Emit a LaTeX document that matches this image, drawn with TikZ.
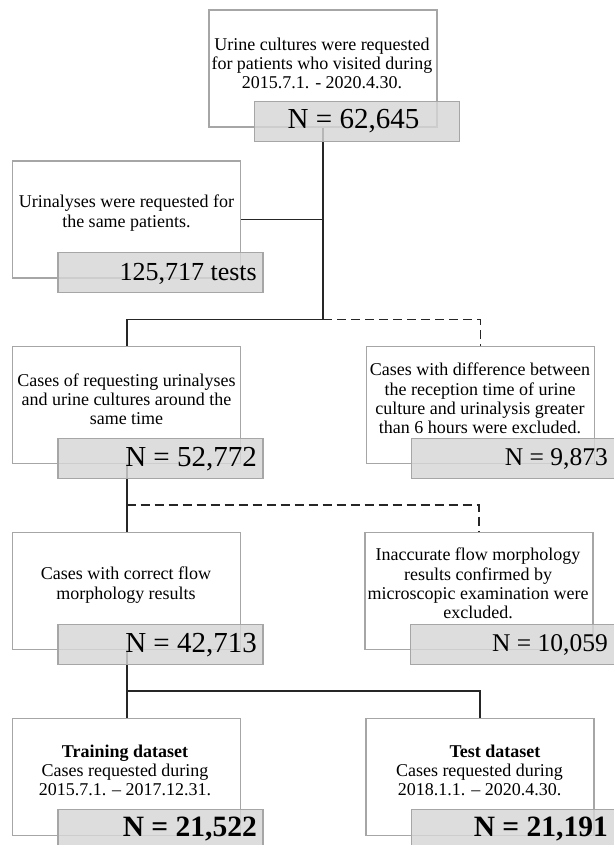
\documentclass[tikz,border=0pt]{standalone}
\usepackage{fontspec}
\setmainfont{Liberation Serif}
\usetikzlibrary{calc}
\definecolor{boxline}{HTML}{A6A6A6}
\definecolor{grayfill}{HTML}{D6D6D6}
\definecolor{connline}{HTML}{262626}
\tikzset{
  wbox/.style={draw=boxline, line width=1.2pt, fill=white, minimum width=228pt, minimum height=117pt, inner sep=0pt},
  gbox/.style={draw=boxline, line width=1.2pt, fill=grayfill, fill opacity=0.82, draw opacity=1, minimum width=205pt, minimum height=40pt, inner sep=0pt},
  conn/.style={draw=connline, line width=1.6pt},
  dconn/.style={conn, dash pattern=on 9pt off 5pt},
  small/.style={align=center, inner sep=0pt, font=\fontsize{18pt}{19.2pt}\selectfont},
  bigl/.style={inner sep=0pt, font=\fontsize{29pt}{30pt}\selectfont},
  bigr/.style={inner sep=0pt, font=\fontsize{25.5pt}{27pt}\selectfont},
  bigb/.style={inner sep=0pt, font=\fontsize{29.5pt}{30pt}\selectfont\bfseries},
}
\begin{document}
\begin{tikzpicture}[x=1pt,y=-1pt]
\useasboundingbox (0,0) rectangle (613,845);
% white boxes
\node[wbox] (top) at (323,68.5) {};
\node[wbox] (urin) at (126.7,219.5) {};
\node[wbox] (incl1) at (126.7,405.3) {};
\node[wbox] (excl1) at (480.3,405.3) {};
\node[wbox] (incl2) at (126.7,591.3) {};
\node[wbox] (excl2) at (479,591.3) {};
\node[wbox] (train) at (126.7,776.7) {};
\node[wbox] (test) at (480,776.7) {};
% junctions
\coordinate (j1) at (323,319.5);
\coordinate (j2) at (126.7,505);
\coordinate (j3) at (126.7,691);
% connectors
\draw[conn] (top.south) -- (j1);
\draw[conn] (urin.east) -- (urin.east -| j1);
\draw[conn] (j1) -| (incl1.north);
\draw[dconn] (j1) -| (excl1.north);
\draw[conn] (incl1.south) -- (incl2.north);
\draw[dconn] (j2) -| (excl2.north);
\draw[conn] (incl2.south) -- (train.north);
\draw[conn] (j3) -| (test.north);
% gray count boxes
\node[gbox] (gtop) at ($(top.south)+(33.8,-6)$) {};
\node[gbox] (gurin) at ($(urin.south)+(33.8,-6)$) {};
\node[gbox] (gincl1) at ($(incl1.south)+(33.8,-6)$) {};
\node[gbox] (gexcl1) at ($(excl1.south)+(33.8,-6)$) {};
\node[gbox] (gincl2) at ($(incl2.south)+(33.8,-6)$) {};
\node[gbox] (gexcl2) at ($(excl2.south)+(33.8,-6)$) {};
\node[gbox] (gtrain) at ($(train.south)+(33.8,-6)$) {};
\node[gbox] (gtest) at ($(test.south)+(33.8,-6)$) {};
% descriptive texts
\node[small] (ttop) at (322,63.5) {Urine cultures were requested\\for patients who visited during\\2015.7.1. - 2020.4.30.};
\node[small] (turin) at (126.5,213) {Urinalyses were requested for\\the same patients.};
\node[small] (tincl1) at (126.5,399) {Cases of requesting urinalyses\\and urine cultures around the\\same time};
\node[small] (texcl1) at (480,398.5) {Cases with difference between\\the reception time of urine\\culture and urinalysis greater\\than 6 hours were excluded.};
\node[small] (tincl2) at (126,585) {Cases with correct flow\\morphology results};
\node[small] (texcl2) at (478,583.5) {Inaccurate flow morphology\\results confirmed by\\microscopic examination were\\excluded.};
\node[small] (ttrain) at (125,770.5) {\textbf{Training dataset}\\Cases requested during\\2015.7.1. -- 2017.12.31.};
\node[small] (ttest) at (479.5,770.5) {\hspace*{31pt}\textbf{Test dataset}\\Cases requested during\\2018.1.1. -- 2020.4.30.};
% counts
\node[bigl, anchor=base] (ntop) at (353.5,128.3) {N = 62,645};
\node[bigr, anchor=base east] (nurin) at (257,280) {\fontsize{26pt}{27pt}\selectfont 125,717 tests};
\node[bigl, anchor=base east] (nincl1) at (257,466.7) {N = 52,772};
\node[bigr, anchor=base east] (nexcl1) at (608,465.7) {N = 9,873};
\node[bigl, anchor=base east] (nincl2) at (257,652.7) {N = 42,713};
\node[bigr, anchor=base east] (nexcl2) at (608,651.7) {N = 10,059};
\node[bigb, anchor=base east] (ntrain) at (257,836.7) {N = 21,522};
\node[bigb, anchor=base east] (ntest) at (608,836.5) {N = 21,191};
\end{tikzpicture}
\end{document}
